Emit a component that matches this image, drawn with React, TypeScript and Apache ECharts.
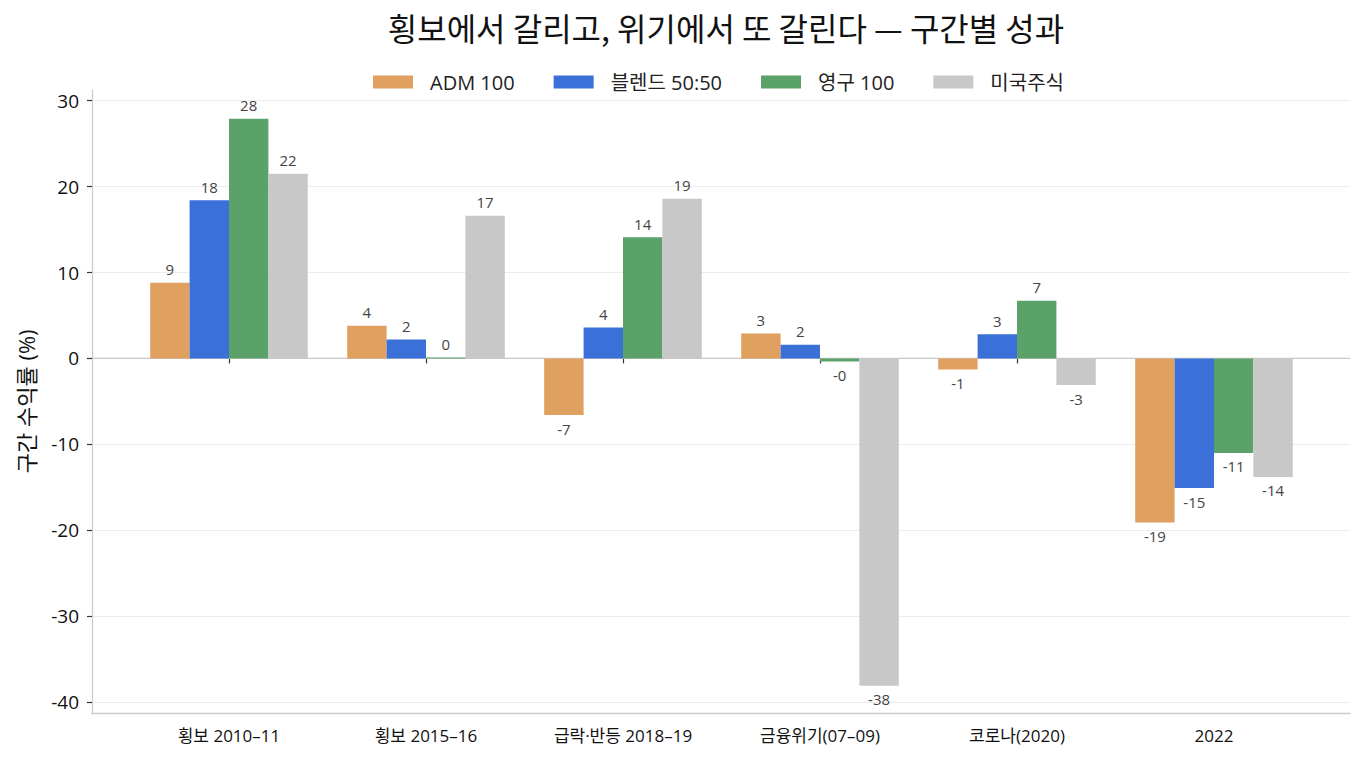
import { useEffect, useRef } from "react";
import * as echarts from "echarts";

const FONT = "'Open Sans', 'Noto Sans CJK KR', sans-serif";
const TITLE_FONT = "'Noto Sans CJK KR', 'Open Sans', sans-serif";

// 구간
const periods = ["횡보 2010–11", "횡보 2015–16", "급락·반등 2018–19", "금융위기(07–09)", "코로나(2020)", "2022"];

// 구간 수익률 (%)
const adm100 = [8.8, 3.8, -6.6, 2.9, -1.3, -19.1];
const blend5050 = [18.4, 2.2, 3.6, 1.6, 2.8, -15.1];
const perm100 = [27.9, 0.1, 14.1, -0.35, 6.7, -11.0];
const usStocks = [21.5, 16.6, 18.6, -38.1, -3.1, -13.8];

const seriesNames = ["ADM 100", "블렌드 50:50", "영구 100", "미국주식"];
const seriesColors = ["#e0a060", "#3a70d8", "#5aa16a", "#c8c8c8"];

const yTicksMin = -40;
const yTicksMax = 30;
const yFrameMin = -41.34;
const yFrameMax = 31.25;

// 0 기준선 (프레임 x축 0~1 전체 폭)
const zeroLine = [
  [0, 0],
  [1, 0],
];

export default function App() {
  const chartRef = useRef<HTMLDivElement>(null);

  useEffect(() => {
    document.body.style.margin = "0";
    if (!chartRef.current) return;
    const chart = echarts.init(chartRef.current, undefined, { renderer: "svg" });

    const barSeries = [adm100, blend5050, perm100, usStocks].map((vals, i) => ({
      name: seriesNames[i],
      type: "bar",
      xAxisIndex: 0,
      yAxisIndex: 0,
      barGap: "0%",
      barCategoryGap: "20%",
      itemStyle: { color: seriesColors[i] },
      z: 3,
      data: vals.map((v) => ({
        value: v,
        label: { position: v < 0 ? "bottom" : "top" },
      })),
      label: {
        show: true,
        distance: 6,
        fontFamily: FONT,
        fontSize: 15,
        color: "#444",
        formatter: (p: any) => Number(p.value).toFixed(0),
      },
    }));

    chart.setOption({
      animation: false,
      backgroundColor: "#fff",
      title: {
        text: "횡보에서 갈리고, 위기에서 또 갈린다 — 구간별 성과",
        left: 721,
        textAlign: "center",
        top: 6,
        textStyle: { fontFamily: TITLE_FONT, fontSize: 32, fontWeight: "normal", color: "#111" },
      },
      legend: {
        data: seriesNames,
        top: 67,
        left: 368,
        itemWidth: 40,
        itemHeight: 13,
        itemGap: 39,
        icon: "rect",
        textStyle: { fontFamily: FONT, fontSize: 20, color: "#222", padding: [0, 0, 0, 12] },
      },
      grid: [
        { left: 130.5, right: 52.5, top: 90, bottom: 51.5 },
        { left: 92, right: 15, top: 100.7, bottom: 63 },
      ],
      xAxis: [
        {
          type: "category",
          gridIndex: 0,
          data: periods,
          axisLine: { show: false },
          axisTick: { show: true, alignWithLabel: true, length: 5, lineStyle: { color: "#333", width: 1.2 } },
          axisLabel: { fontFamily: FONT, fontSize: 17, color: "#111", margin: 13 },
          splitLine: { show: false },
        },
        {
          type: "value",
          gridIndex: 1,
          min: 0,
          max: 1,
          offset: 11.5,
          axisLine: { show: true, onZero: false, lineStyle: { color: "#cccccc", width: 1.3 } },
          axisTick: { show: false },
          axisLabel: { show: false },
          splitLine: { show: false },
        },
      ],
      yAxis: [
        {
          type: "value",
          gridIndex: 0,
          min: yFrameMin,
          max: yFrameMax,
          offset: 38.5,
          axisLine: { show: true, lineStyle: { color: "#cccccc", width: 1.3 } },
          axisTick: { show: false },
          axisLabel: { show: false },
          splitLine: { show: false },
        },
        {
          type: "value",
          gridIndex: 1,
          min: yTicksMin,
          max: yTicksMax,
          interval: 10,
          name: "구간 수익률 (%)",
          nameLocation: "middle",
          nameGap: 55,
          nameTextStyle: { fontFamily: FONT, fontSize: 22, color: "#111" },
          axisLine: { show: false },
          axisTick: { show: true, length: 5, lineStyle: { color: "#333", width: 1.2 } },
          axisLabel: { fontFamily: FONT, fontSize: 19, color: "#111", margin: 13 },
          splitLine: { show: true, lineStyle: { color: "#ececec", width: 1 } },
        },
      ],
      series: [
        {
          name: "zero",
          type: "line",
          xAxisIndex: 1,
          yAxisIndex: 1,
          data: zeroLine,
          symbol: "none",
          silent: true,
          z: 1,
          lineStyle: { color: "#c8c8c8", width: 1.3 },
        },
        ...barSeries,
      ],
    });

    return () => {
      chart.dispose();
    };
  }, []);

  return <div ref={chartRef} style={{ width: "1365px", height: "765px" }} />;
}
